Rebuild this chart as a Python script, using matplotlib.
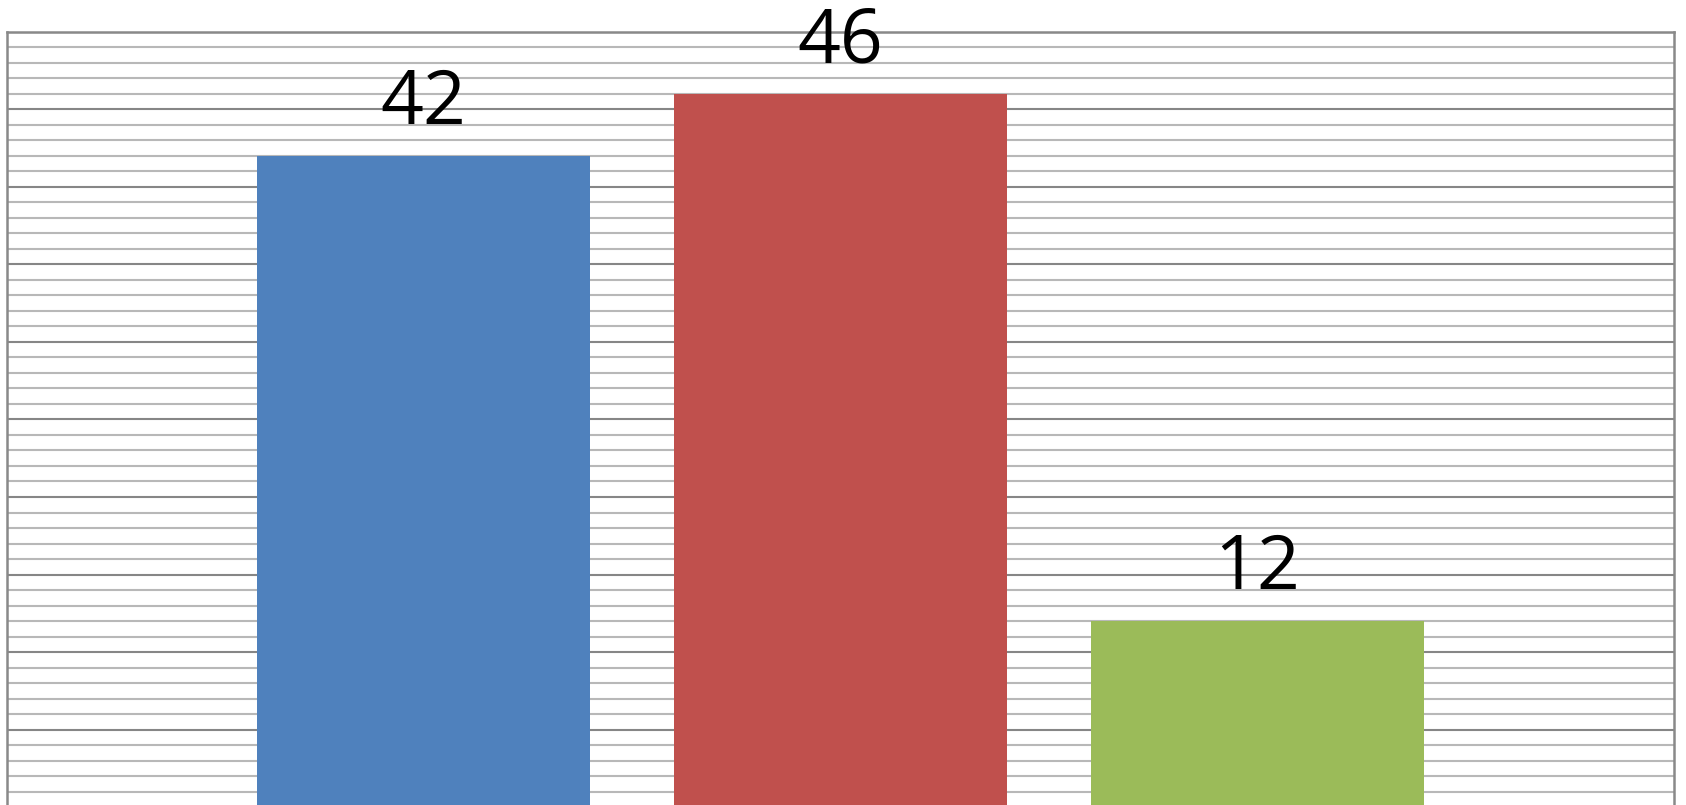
import numpy as np
import matplotlib
matplotlib.use("Agg")
import matplotlib.pyplot as plt
from matplotlib.ticker import MultipleLocator

# values
categories = ["A", "B", "C"]
values = [42, 46, 12]
colors = ["#4F81BD", "#C0504D", "#9BBB59"]

plt.rcParams['font.family'] = ['Open Sans', 'DejaVu Sans']

fig = plt.figure(figsize=(16.86, 8.05), dpi=100)
# the reference is a crop: the plot's bottom edge sits just below the image
ax = fig.add_axes([7 / 1686, -2 / 805, 1667 / 1686, 775 / 805])

x = np.arange(len(categories))
bars = ax.bar(x, values, width=0.8, color=colors, zorder=3)
ax.bar_label(bars, labels=[str(v) for v in values], padding=10,
             fontsize=54, color='black')

ax.set_xlim(-1, 3)
ax.set_ylim(0, 50)
ax.yaxis.set_major_locator(MultipleLocator(5))
ax.yaxis.set_minor_locator(MultipleLocator(1))
ax.grid(True, which='major', axis='y', color='#868686', linewidth=1.5, zorder=1)
ax.grid(True, which='minor', axis='y', color='#b8b8b8', linewidth=1.5, zorder=1)
ax.tick_params(which='both', left=False, bottom=False, labelleft=False, labelbottom=False)

for side in ['left', 'right', 'top', 'bottom']:
    ax.spines[side].set_color('#898989')
    ax.spines[side].set_linewidth(1.8)

fig.savefig("out.png", dpi=100)
